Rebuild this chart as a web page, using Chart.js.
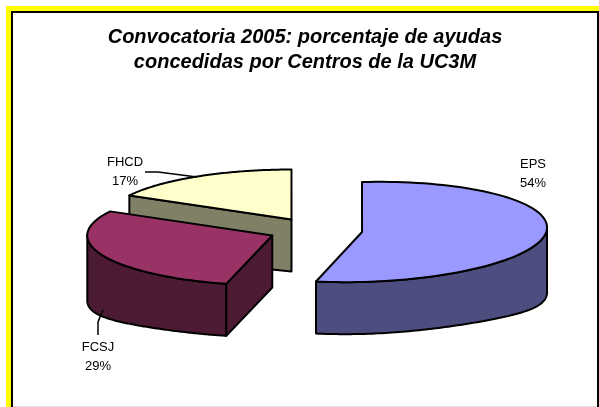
<!DOCTYPE html>
<html><head><meta charset="utf-8">
<style>html,body{margin:0;padding:0;background:#fff;overflow:hidden}canvas{display:block}</style>
<script src="https://cdn.jsdelivr.net/npm/chart.js@4/dist/chart.umd.min.js"></script>
</head><body>
<div style="position:relative;width:599px;height:407px"><canvas id="c" width="599" height="407"></canvas></div>
<script>
const categories = ['EPS', 'FCSJ', 'FHCD'];
const values = [54, 29, 17];
const percentLabels = ['54%', '29%', '17%'];
const topColors = ['#9999FF', '#993366', '#FFFFCC'];
const wallColors = ['#4D4D80', '#4D1A33', '#808066'];
const titleLines = ['Convocatoria 2005: porcentaje de ayudas', 'concedidas por Centros de la UC3M'];

const FONT = '"Liberation Sans", Arial, sans-serif';
const ORIGIN = {x: 315.4, y: 230.4};
const RADIUS = 185, SQUASH = 0.27, EXPLODE = 47;
const TILT = [-0.025, 0, 0];
const DRAW_ORDER = [2, 1, 0];
const LABEL_POS = [[533, 173.5], [98, 356.5], [125, 172]];
const LEADERS = [null, [[103, 310], [98, 322], [98, 335]], [[145, 172], [158, 172], [197, 177]]];

function depthAt(dx) { return 52 + 13 * Math.pow(dx / RADIUS, 4); }

const pie3d = {
  id: 'pie3d',
  beforeDraw(chart) {
    const c = chart.ctx;
    c.save();
    c.fillStyle = '#fff'; c.fillRect(0, 0, 599, 407);
    c.fillStyle = '#DDD'; c.fillRect(13, 406, 584, 1);
    c.fillStyle = '#FFFF00'; c.fillRect(6, 6, 593, 5); c.fillRect(6, 6, 5, 401);
    c.fillStyle = '#000'; c.fillRect(11, 11, 588, 2); c.fillRect(11, 11, 2, 396); c.fillRect(597, 11, 2, 396);
    c.restore();
  },
  beforeDatasetDraw(chart, args) {
    const meta = args.meta, c = chart.ctx;
    DRAW_ORDER.forEach(i => {
      const arc = meta.data[i];
      const mid = (arc.startAngle + arc.endAngle) / 2;
      const cx = ORIGIN.x + Math.cos(mid) * EXPLODE;
      const cy = ORIGIN.y + Math.sin(mid) * EXPLODE * SQUASH;
      const tilt = TILT[i];
      const r = arc.outerRadius;
      const pt = a => {
        const dx = Math.cos(a) * r;
        return [cx + dx, cy + Math.sin(a) * r * SQUASH + dx * tilt, dx];
      };
      const outline = () => {
        c.beginPath();
        c.moveTo(cx, cy);
        for (let k = 0; k <= 90; k++) {
          const p = pt(arc.startAngle + (arc.endAngle - arc.startAngle) * k / 90);
          c.lineTo(p[0], p[1]);
        }
        c.closePath();
      };
      c.save();
      c.lineWidth = 2; c.strokeStyle = '#000'; c.lineJoin = 'round';
      c.fillStyle = wallColors[i];
      const pts = [];
      for (let k = 0; k <= 180; k++) {
        const a = arc.startAngle + (arc.endAngle - arc.startAngle) * k / 180;
        const n = ((a % (2 * Math.PI)) + 2 * Math.PI) % (2 * Math.PI);
        if (n <= Math.PI + 0.02) pts.push(pt(a));
      }
      if (pts.length > 1) {
        c.beginPath();
        pts.forEach((p, k) => k ? c.lineTo(p[0], p[1]) : c.moveTo(p[0], p[1]));
        pts.slice().reverse().forEach(p => c.lineTo(p[0], p[1] + depthAt(p[2])));
        c.closePath(); c.fill(); c.stroke();
      }
      [[arc.startAngle, Math.cos(arc.startAngle) < -0.01], [arc.endAngle, Math.cos(arc.endAngle) > 0.01]].forEach(([a, vis]) => {
        if (!vis) return;
        const p = pt(a);
        c.beginPath();
        c.moveTo(cx, cy); c.lineTo(p[0], p[1]);
        c.lineTo(p[0], p[1] + depthAt(p[2])); c.lineTo(cx, cy + depthAt(0));
        c.closePath(); c.fill(); c.stroke();
      });
      c.save();
      c.transform(1, tilt, 0, SQUASH, cx - arc.x, cy - arc.y * SQUASH - tilt * arc.x);
      arc.draw(c);
      c.restore();
      outline(); c.stroke();
      c.restore();
    });
    c.save();
    c.strokeStyle = '#000'; c.lineWidth = 1.5;
    LEADERS.forEach(l => {
      if (!l) return;
      c.beginPath();
      l.forEach((p, k) => k ? c.lineTo(p[0], p[1]) : c.moveTo(p[0], p[1]));
      c.stroke();
    });
    c.fillStyle = '#000'; c.font = '13px ' + FONT;
    c.textAlign = 'center'; c.textBaseline = 'middle';
    categories.forEach((name, i) => {
      c.fillText(name, LABEL_POS[i][0], LABEL_POS[i][1] - 9.5);
      c.fillText(percentLabels[i], LABEL_POS[i][0], LABEL_POS[i][1] + 9.5);
    });
    c.restore();
    return false;
  }
};

new Chart(document.getElementById('c'), {
  type: 'pie',
  data: {
    labels: categories,
    datasets: [{
      data: values,
      backgroundColor: topColors,
      borderWidth: 0,
      radius: RADIUS,
      clip: false
    }]
  },
  options: {
    responsive: false,
    animation: false,
    events: [],
    layout: {padding: {left: 11, top: 25}},
    plugins: {
      legend: {display: false},
      tooltip: {enabled: false},
      title: {
        display: true,
        text: titleLines,
        color: '#000',
        font: {family: FONT, size: 20, weight: 'bold', style: 'italic', lineHeight: 1.25},
        padding: {top: 0, bottom: 0}
      }
    }
  },
  plugins: [pie3d]
});
</script>
</body></html>
